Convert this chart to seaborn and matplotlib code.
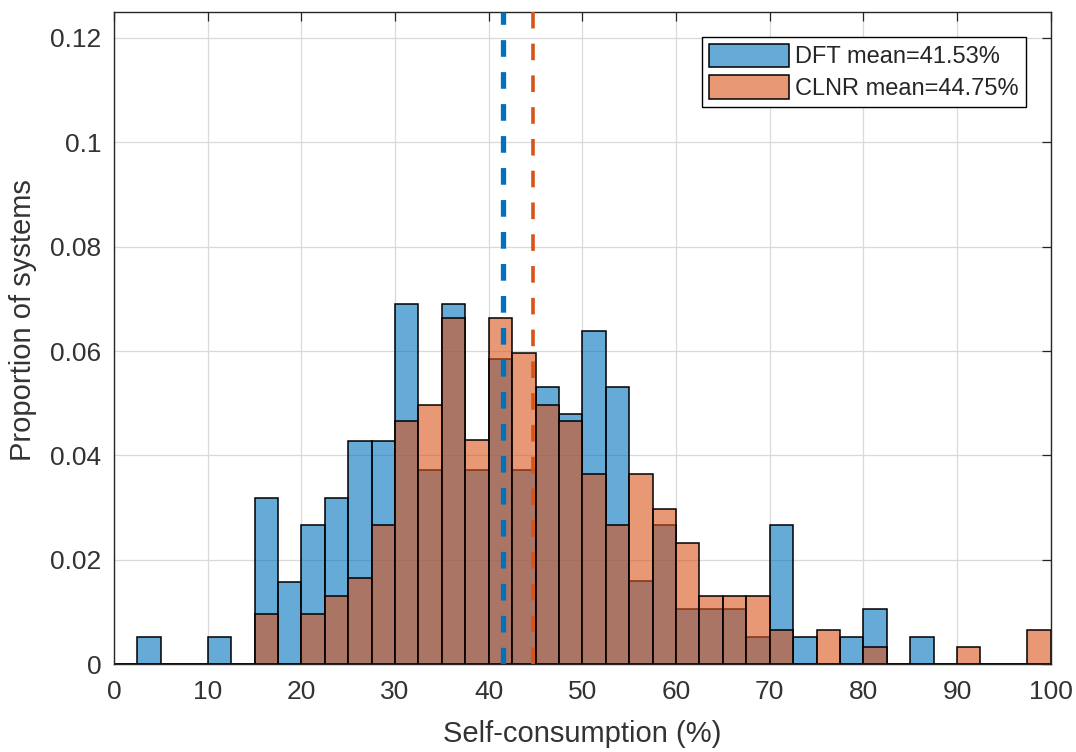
import numpy as np
import seaborn as sns
import matplotlib.pyplot as plt
from matplotlib.patches import Patch
from matplotlib.ticker import FuncFormatter

sns.set_style("white")
plt.rcParams['font.family'] = ['Liberation Sans', 'DejaVu Sans']

# Data: lower edge of each 2.5% bin and its proportion
dft_bin = [2.5, 10, 15, 17.5, 20, 22.5, 25, 27.5, 30, 32.5, 35, 37.5, 40, 42.5,
           45, 47.5, 50, 52.5, 55, 57.5, 60, 62.5, 65, 67.5, 70, 72.5, 77.5, 80, 85]
dft_prop = [0.0053, 0.0053, 0.0319, 0.0158, 0.0266, 0.0319, 0.0427, 0.0427, 0.0691,
            0.0372, 0.0691, 0.0372, 0.0585, 0.0372, 0.0532, 0.0479, 0.0638, 0.0532,
            0.0160, 0.0266, 0.0106, 0.0106, 0.0106, 0.0053, 0.0266, 0.0053, 0.0053,
            0.0106, 0.0053]

clnr_bin = [15, 20, 22.5, 25, 27.5, 30, 32.5, 35, 37.5, 40, 42.5, 45, 47.5, 50,
            52.5, 55, 57.5, 60, 62.5, 65, 67.5, 70, 75, 80, 90, 97.5]
clnr_prop = [0.0096, 0.0096, 0.0131, 0.0166, 0.0266, 0.0466, 0.0497, 0.0663, 0.0430,
             0.0663, 0.0596, 0.0497, 0.0466, 0.0364, 0.0266, 0.0364, 0.0298, 0.0232,
             0.0131, 0.0131, 0.0131, 0.0066, 0.0066, 0.0033, 0.0033, 0.0066]

series = ["DFT", "CLNR"]
means = [41.53, 44.75]

blue = (0, 0.447, 0.741)
orange = (0.85, 0.325, 0.098)

fig = plt.figure(figsize=(10.76, 7.52), dpi=100)
ax = fig.add_axes([0.106, 0.1166, 0.8705, 0.8678])

sns.histplot(x=dft_bin, weights=dft_prop, binwidth=2.5, binrange=(0, 100), stat="count",
             facecolor=blue + (0.6,), edgecolor="black", linewidth=1.1, ax=ax)
sns.histplot(x=clnr_bin, weights=clnr_prop, binwidth=2.5, binrange=(0, 100), stat="count",
             facecolor=orange + (0.6,), edgecolor="black", linewidth=1.1, ax=ax)

# mean lines
ax.axvline(means[0], color=blue, lw=3.8, linestyle=(0, (3.16, 2.9)), zorder=5)
ax.axvline(means[1], color=orange, lw=2.6, linestyle=(0, (4.6, 4.2)), zorder=5)

ax.set_xlim(0, 100)
ax.set_ylim(0, 0.125)
ax.set_xticks(np.arange(0, 101, 10))
ax.set_yticks(np.arange(0, 0.121, 0.02))
ax.yaxis.set_major_formatter(FuncFormatter(lambda v, p: "%g" % round(v, 2)))

ax.set_axisbelow(True)
ax.grid(True, color="#d9d9d9", lw=0.9)
for s in ax.spines.values():
    s.set_visible(True)
    s.set_color("#262626")
    s.set_linewidth(1.0)
ax.tick_params(direction="in", length=6.5, width=0.9, top=True, right=True,
               color="#262626", labelcolor="#333333", labelsize=19)
ax.tick_params(axis="x", pad=11)
ax.tick_params(axis="y", pad=9)

ax.set_xlabel("Self-consumption (%)", fontsize=21, color="#333333")
ax.set_ylabel("Proportion of systems", fontsize=21, color="#333333")
ax.xaxis.set_label_coords(0.5, -0.085)
ax.yaxis.set_label_coords(-0.082, 0.528)

handles = [Patch(facecolor=blue + (0.6,), edgecolor="black", lw=1.1),
           Patch(facecolor=orange + (0.6,), edgecolor="black", lw=1.1)]
labels = ["%s mean=%.2f%%" % (n, m) for n, m in zip(series, means)]
leg = ax.legend(handles, labels, loc="upper right", fontsize=17, fancybox=False,
                framealpha=1, edgecolor="black", handlelength=3.4, handleheight=1.15,
                labelspacing=0.3, borderpad=0.3, handletextpad=0.25,
                borderaxespad=1.05)
leg.get_frame().set_linewidth(1.0)
for t in leg.get_texts():
    t.set_color("#262626")

plt.savefig("out.png", dpi=100)
